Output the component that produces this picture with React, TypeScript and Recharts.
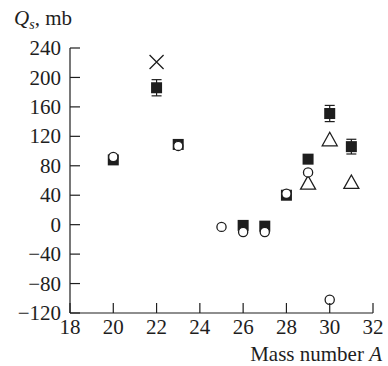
import React from "react";
import { ScatterChart, Scatter, XAxis, YAxis, ErrorBar, Customized } from "recharts";

// Filled squares with error bars
const squareA = [20, 22, 23, 26, 27, 28, 29, 30, 31];
const squareQ = [88, 186, 109, -1, -2, 40, 89, 151, 106];
const squareErr = [0, 11, 0, 0, 0, 0, 0, 11, 10];

// Open circles
const circleA = [20, 23, 25, 26, 27, 28, 29, 30];
const circleQ = [92, 107, -3, -10, -10, 42, 71, -102];

// Open triangles
const triangleA = [29, 30, 31];
const triangleQ = [57, 116, 58];

// Crosses
const crossA = [22];
const crossQ = [221];

const xTicks = [18, 20, 22, 24, 26, 28, 30, 32];
const yTicks = [-120, -80, -40, 0, 40, 80, 120, 160, 200, 240];

const squareData = squareA.map((a, i) => ({ a, q: squareQ[i], err: squareErr[i] }));
const circleData = circleA.map((a, i) => ({ a, q: circleQ[i] }));
const triangleData = triangleA.map((a, i) => ({ a, q: triangleQ[i] }));
const crossData = crossA.map((a, i) => ({ a, q: crossQ[i] }));

const INK = "#1e1e1e";
const FONT = "'Liberation Serif', 'Times New Roman', serif";
const FS = 21;

const fmt = (v: number) => (v < 0 ? "\u2212" + Math.abs(v) : String(v));

const YTick = (props: any) => {
  const { x, y, payload } = props;
  return (
    <g>
      <line x1={x} y1={y} x2={x + 10} y2={y} stroke={INK} strokeWidth={1.2} />
      <text x={x - 9} y={y} dy="0.34em" textAnchor="end" fontFamily={FONT} fontSize={FS} fill={INK}>
        {fmt(payload.value)}
      </text>
    </g>
  );
};

const XTick = (props: any) => {
  const { x, y, payload } = props;
  return (
    <g>
      <line x1={x} y1={y} x2={x} y2={y - 10} stroke={INK} strokeWidth={1.2} />
      <text x={x} y={y + 21} textAnchor="middle" fontFamily={FONT} fontSize={FS} fill={INK}>
        {fmt(payload.value)}
      </text>
    </g>
  );
};

const SquareShape = (p: any) => (
  <rect x={p.cx - 5.5} y={p.cy - 5.5} width={11} height={11} fill={INK} />
);
const CircleShape = (p: any) => (
  <circle cx={p.cx} cy={p.cy} r={4.6} fill="#fff" stroke={INK} strokeWidth={1.3} />
);
const TriangleShape = (p: any) => (
  <path
    d={`M${p.cx},${p.cy - 7} L${p.cx + 7.5},${p.cy + 6.5} L${p.cx - 7.5},${p.cy + 6.5} Z`}
    fill="#fff"
    stroke={INK}
    strokeWidth={1.3}
  />
);
const CrossShape = (p: any) => (
  <path
    d={`M${p.cx - 7},${p.cy - 7} L${p.cx + 7},${p.cy + 7} M${p.cx + 7},${p.cy - 7} L${p.cx - 7},${p.cy + 7}`}
    stroke={INK}
    strokeWidth={1.3}
    fill="none"
  />
);

const Labels = () => (
  <g>
    <text x={14} y={25} fontFamily={FONT} fontSize={FS} fill={INK}>
      <tspan fontStyle="italic">Q</tspan>
      <tspan fontStyle="italic" fontSize={14} dy={4}>s</tspan>
      <tspan dy={-4}>, mb</tspan>
    </text>
    <text x={382} y={361} textAnchor="end" fontFamily={FONT} fontSize={FS} fill={INK}>
      Mass number <tspan fontStyle="italic">A</tspan>
    </text>
  </g>
);

export default function App() {
  return (
    <div style={{ position: "absolute", left: 0, top: 0, background: "#fff" }}>
      <ScatterChart width={388} height={366} margin={{ top: 48, right: 15, bottom: 23, left: 10 }}>
        <XAxis
          type="number"
          dataKey="a"
          domain={[18, 32]}
          ticks={xTicks}
          interval={0}
          height={30}
          tickSize={0}
          tickMargin={0}
          tickLine={false}
          axisLine={{ stroke: INK, strokeWidth: 1.2 }}
          tick={<XTick />}
          allowDataOverflow
        />
        <YAxis
          type="number"
          dataKey="q"
          domain={[-120, 240]}
          ticks={yTicks}
          interval={0}
          width={60}
          tickSize={0}
          tickMargin={0}
          tickLine={false}
          axisLine={{ stroke: INK, strokeWidth: 1.2 }}
          tick={<YTick />}
          allowDataOverflow
        />
        <Scatter data={squareData} shape={<SquareShape />} isAnimationActive={false}>
          <ErrorBar dataKey="err" direction="y" width={5} stroke={INK} strokeWidth={1.2} />
        </Scatter>
        <Scatter data={triangleData} shape={<TriangleShape />} isAnimationActive={false} />
        <Scatter data={circleData} shape={<CircleShape />} isAnimationActive={false} />
        <Scatter data={crossData} shape={<CrossShape />} isAnimationActive={false} />
        <Customized component={<Labels />} />
      </ScatterChart>
    </div>
  );
}
